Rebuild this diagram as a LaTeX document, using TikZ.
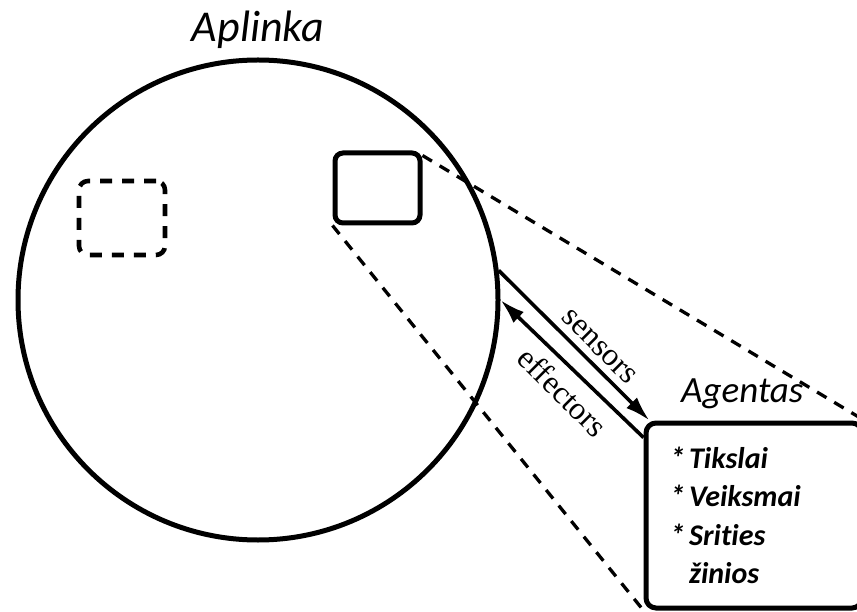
\documentclass[tikz,border=0pt]{standalone}
\usepackage{fontspec}
\setmainfont{Liberation Serif}
\newfontfamily\calib[Ligatures=NoCommon]{Carlito}
\usetikzlibrary{arrows.meta}

\tikzset{
  thickline/.style={draw=black, line width=5pt},
  shade box/.style={thickline, rounded corners=8pt, inner sep=0pt},
  ghostbox/.style={draw=black, line width=4.6pt, rounded corners=9pt, inner sep=0pt,
    dash pattern=on 12pt off 10pt},
  guide/.style={draw=black, line width=3.3pt, dash pattern=on 11pt off 9pt},
  channel/.style={draw=black, line width=3.6pt, -{Latex[length=25pt,width=15pt]}},
  channel label/.style={font=\fontsize{32}{34}\selectfont, inner sep=0pt, rotate=-45},
  title/.style={font=\calib\itshape\fontsize{44}{48}\selectfont, inner sep=0pt},
  agentname/.style={font=\calib\itshape\fontsize{37}{40}\selectfont, inner sep=0pt},
  agentlist/.style={font=\calib\bfseries\itshape\fontsize{30}{38.5}\selectfont, inner sep=0pt}
}

\begin{document}
\begin{tikzpicture}[x=1pt,y=-1pt]
\useasboundingbox (0,0) rectangle (857,612);
\clip (0,0) rectangle (857,612);
\fill[white] (0,0) rectangle (857,612);

% the environment
\node[thickline, circle, minimum size=480pt, inner sep=0pt] (env) at (258,300) {};
\node[title, anchor=base] (envname) at (258,42) {Aplinka};

% agents living in the environment
\node[shade box, minimum width=85pt, minimum height=70pt] (mini) at (377.5,188) {};
\node[ghostbox, minimum width=86pt, minimum height=74pt] (other) at (122,218) {};

% enlarged view of the agent
\node[thickline, rounded corners=10pt, minimum width=216pt, minimum height=185pt,
      inner sep=0pt] (agent) at (754,515.5) {};
\node[agentname, anchor=base west] (agentname) at (681,402) {Agentas};
\node[agentlist, anchor=base west] (agentlist) at (670,468)
  {\begin{tabular}[t]{@{}l@{\hspace{4pt}}l@{}}
   {*} & Tikslai\\
   {*} & Veiksmai\\
   {*} & Srities\\
       & žinios
   \end{tabular}};

% zoom guides
\draw[guide] ([yshift=-5pt]mini.north east) -- (agent.north east);
\draw[guide] (mini.south west) -- (agent.south west);

% perception and action channels
\draw[channel] (env.7) -- ([xshift=6pt]agent.north west);
\draw[channel] ([yshift=-17pt]agent.north west) -- (env.0);
\node[channel label] (sensors) at (599,347) {sensors};
\node[channel label] (effectors) at (563,392) {effectors};
\end{tikzpicture}
\end{document}
